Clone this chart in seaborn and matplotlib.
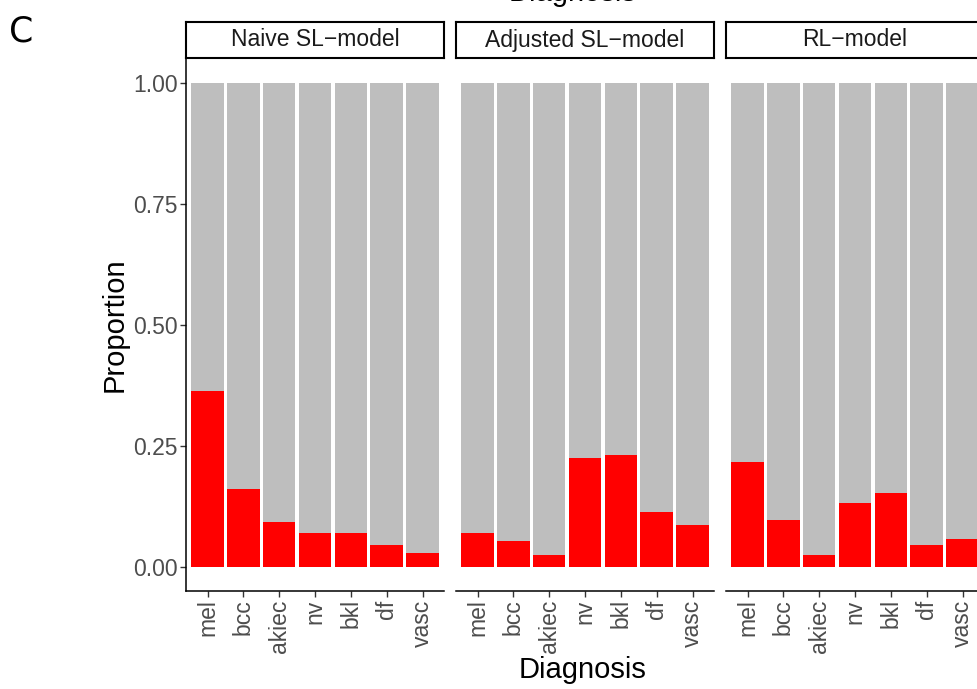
import matplotlib
matplotlib.use("Agg")
import matplotlib.pyplot as plt
import pandas as pd
import seaborn as sns

# -----------------------------
# Data
# -----------------------------
diagnoses = ["mel", "bcc", "akiec", "nv", "bkl", "df", "vasc"]
models = ["Naive SL\u2212model", "Adjusted SL\u2212model", "RL\u2212model"]
naive_sl = [0.364, 0.161, 0.093, 0.070, 0.070, 0.045, 0.029]
adjusted_sl = [0.070, 0.054, 0.025, 0.225, 0.231, 0.114, 0.087]
rl_model = [0.217, 0.097, 0.025, 0.132, 0.153, 0.045, 0.058]
total = [1.0] * len(diagnoses)

rows = []
for model, values in zip(models, [naive_sl, adjusted_sl, rl_model]):
    for diag, val, tot in zip(diagnoses, values, total):
        rows.append({"model": model, "Diagnosis": diag, "red": val, "total": tot})
df = pd.DataFrame(rows)

sns.set_theme(style="white")
plt.rcParams["font.family"] = ["Liberation Sans", "DejaVu Sans"]

W, H = 977, 689
fig = plt.figure(figsize=(W / 100, H / 100), dpi=100)

GRAY = "#BEBEBE"
RED = "#FF0000"
lefts = [186, 456, 726]
panel_w = 258
panel_top, panel_bot = 58, 591
strip_top = 22


def fx(px):
    return px / W


def fy(py):
    return 1 - py / H


for i, (model, left) in enumerate(zip(models, lefts)):
    ax = fig.add_axes([fx(left), fy(panel_bot), fx(panel_w), (panel_bot - panel_top) / H])
    sub = df[df["model"] == model]
    sns.barplot(data=sub, x="Diagnosis", y="total", color=GRAY, width=0.91,
                saturation=1, order=diagnoses, linewidth=0, ax=ax)
    sns.barplot(data=sub, x="Diagnosis", y="red", color=RED, width=0.91,
                saturation=1, order=diagnoses, linewidth=0, ax=ax)
    ax.set_xlim(-0.6, 6.6)
    ax.set_ylim(-0.05, 1.052)
    ax.set_xlabel("")
    ax.set_ylabel("")
    for side in ["top", "right"]:
        ax.spines[side].set_visible(False)
    ax.spines["bottom"].set_color("black")
    ax.spines["bottom"].set_linewidth(1.1)
    ax.tick_params(axis="x", length=4, width=1, color="#333333", labelsize=16.5,
                   labelcolor="#4D4D4D", labelrotation=90, pad=2, bottom=True)
    if i == 0:
        ax.spines["left"].set_color("black")
        ax.spines["left"].set_linewidth(1.1)
        ax.set_yticks([0, 0.25, 0.5, 0.75, 1.0])
        ax.set_yticklabels(["0.00", "0.25", "0.50", "0.75", "1.00"])
        ax.tick_params(axis="y", length=4, width=1, color="#333333", labelsize=16.5,
                       labelcolor="#4D4D4D", pad=2, left=True)
    else:
        ax.spines["left"].set_visible(False)
        ax.set_yticks([])

    # facet strip
    sax = fig.add_axes([fx(left), fy(panel_top), fx(panel_w), (panel_top - strip_top) / H])
    sax.set_xticks([])
    sax.set_yticks([])
    sax.set_facecolor("white")
    for sp in sax.spines.values():
        sp.set_color("black")
        sp.set_linewidth(1.5)
    sax.text(0.5, 0.5, model, ha="center", va="center", fontsize=16.5,
             color="#1A1A1A", transform=sax.transAxes)

fig.text(fx(115), fy(325), "Proportion", rotation=90, ha="center", va="center",
         fontsize=21, color="black")
fig.text(fx(583), fy(670), "Diagnosis", ha="center", va="center",
         fontsize=21, color="black")
fig.text(fx(573), fy(1), "Diagnosis", ha="center", va="baseline",
         fontsize=21, color="black")
fig.text(fx(9), fy(42), "C", ha="left", va="baseline", fontsize=25,
         family=["DejaVu Sans"], color="black")

fig.savefig("out.png", dpi=100)
